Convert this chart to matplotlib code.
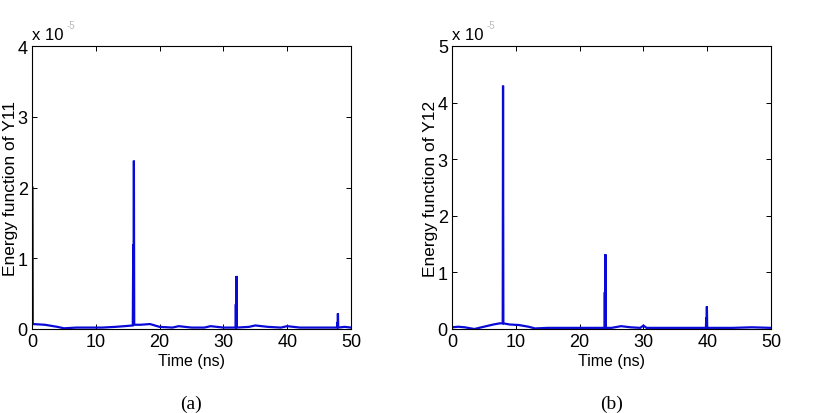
import numpy as np
import matplotlib.pyplot as plt

plt.rcParams["font.family"] = ["Liberation Sans", "DejaVu Sans"]

# ------------------------------------------------------------
# Data (values in units of 1e-5)
# ------------------------------------------------------------

# (a) energy function of Y11
time_a = [0.0, 0.08, 0.12, 2.0, 4.0, 5.0, 7.0, 9.0, 11.0, 13.0, 14.5, 15.8,
          15.87, 15.92, 15.97, 16.02, 17.0, 18.5, 20.0, 22.0, 23.0, 25.0,
          27.0, 28.0, 30.0, 31.9, 31.95, 32.0, 32.05, 32.1, 34.0, 35.0,
          37.0, 39.0, 40.0, 42.0, 45.0, 47.8, 47.85, 47.9, 47.95, 48.0,
          49.0, 50.0]
energy_a = [2.0, 2.0, 0.07, 0.06, 0.03, 0.01, 0.02, 0.02, 0.02, 0.03, 0.04,
            0.05, 1.2, 0.06, 2.38, 0.06, 0.06, 0.07, 0.03, 0.02, 0.04, 0.02,
            0.02, 0.04, 0.02, 0.02, 0.35, 0.02, 0.75, 0.02, 0.03, 0.05,
            0.03, 0.02, 0.04, 0.02, 0.02, 0.02, 0.1, 0.02, 0.22, 0.02,
            0.03, 0.02]

# (b) energy function of Y12
time_b = [0.0, 1.0, 2.0, 3.5, 5.0, 6.5, 7.5, 7.95, 8.0, 8.05, 9.0, 10.5,
          12.0, 13.0, 15.0, 18.0, 21.0, 23.9, 23.95, 24.0, 24.05, 24.1,
          25.0, 26.5, 28.0, 29.5, 30.0, 30.5, 33.0, 36.0, 39.8, 39.85,
          39.9, 39.95, 40.0, 41.0, 44.0, 47.0, 50.0]
energy_b = [0.03, 0.04, 0.03, 0.0, 0.04, 0.08, 0.1, 0.1, 4.3, 0.1, 0.08, 0.07,
            0.04, 0.01, 0.02, 0.02, 0.02, 0.02, 0.65, 0.02, 1.32, 0.02,
            0.02, 0.05, 0.03, 0.02, 0.06, 0.02, 0.02, 0.02, 0.02, 0.2,
            0.02, 0.4, 0.02, 0.02, 0.02, 0.03, 0.02]

panels = [
    dict(t=time_a, y=energy_a, ymax=4, ylabel="Energy function of Y11",
         caption="(a)", left=32),
    dict(t=time_b, y=energy_b, ymax=5, ylabel="Energy function of Y12",
         caption="(b)", left=452),
]

W, H = 820, 414
fig = plt.figure(figsize=(W / 100, H / 100), dpi=100)

for p in panels:
    ax = fig.add_axes([p["left"] / W, 1 - 330 / H, 319 / W, 283 / H])
    ax.plot(p["t"], p["y"], color="#0a0ad8", linewidth=1.6,
            solid_joinstyle="miter")
    ax.set_xlim(0, 50)
    ax.set_ylim(0, p["ymax"])
    ax.set_xticks(np.arange(0, 51, 10))
    ax.set_yticks(np.arange(0, p["ymax"] + 1))
    ax.tick_params(direction="in", length=3.5, width=0.7, top=True,
                   right=True, labelsize=13, pad=3)
    for s in ax.spines.values():
        s.set_linewidth(0.8)
    ax.set_xlabel("Time (ns)", fontsize=11.5, labelpad=2)
    ax.set_ylabel(p["ylabel"], fontsize=12.5, labelpad=0)

    # MATLAB-style exponent label
    x0 = p["left"] / W
    fig.text(x0, 1 - 35 / H, "x 10", fontsize=12, va="center", ha="left")
    fig.text(x0 + 35 / W, 1 - 26 / H, "-5", fontsize=7, va="center",
             ha="left", color="#bbbbbb")

    cx = (p["left"] + 319 / 2) / W
    fig.text(cx, 1 - 404 / H, p["caption"], fontsize=14,
             family=["Liberation Serif", "DejaVu Serif"],
             ha="center", va="center")

fig.savefig("out.png", dpi=100)
